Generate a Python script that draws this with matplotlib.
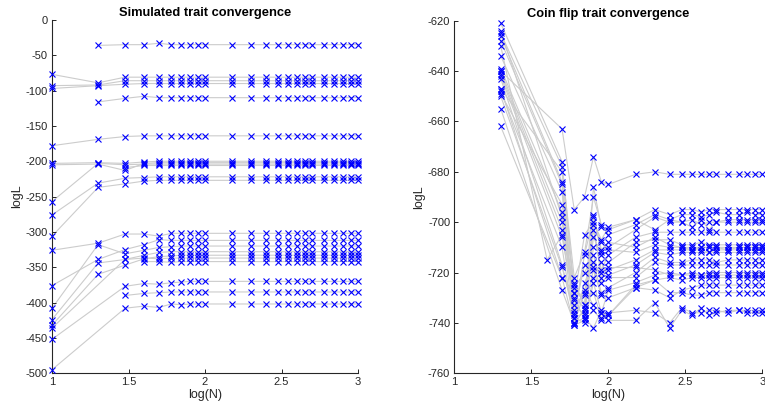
import numpy as np
import matplotlib
matplotlib.use("Agg")
from matplotlib import pyplot as plt

plt.rcParams['font.family'] = ['Liberation Sans', 'DejaVu Sans']
plt.rcParams['axes.unicode_minus'] = False

# --- left panel: simulated trait ---
n_sim = [10, 20, 30, 40, 50, 60, 70, 80, 90, 100, 150, 200, 250, 300, 350, 400,
         450, 500, 600, 700, 800, 900, 1000]

sim_logL = [
    [None, -36, -35, -35, -33, -35, -35, -35, -35, -35, -35, -35, -35, -35, -35, -35, -35, -35, -35, -35, -35, -35, -35],
    [-77, -89, -81, -81, -81, -81, -81, -81, -81, -81, -81, -81, -81, -81, -81, -81, -81, -81, -81, -81, -81, -81, -81],
    [-93, -92, -86, -86, -86, -86, -86, -86, -86, -86, -86, -86, -86, -86, -86, -86, -86, -86, -86, -86, -86, -86, -86],
    [-97, -93, -91, -90, -90, -90, -90, -90, -90, -90, -90, -90, -90, -90, -90, -90, -90, -90, -90, -90, -90, -90, -90],
    [None, -116, -111, -108, -110, -110, -110, -110, -110, -110, -110, -110, -110, -110, -110, -110, -110, -110, -110, -110, -110, -110, -110],
    [-178, -169, -165, -164, -164, -164, -164, -164, -164, -164, -164, -164, -164, -164, -164, -164, -164, -164, -164, -164, -164, -164, -164],
    [-203, -202, -203, -201, -200, -200, -200, -200, -200, -200, -200, -200, -200, -200, -200, -200, -200, -200, -200, -200, -200, -200, -200],
    [-205, -204, -213, -203, -202, -202, -202, -202, -202, -202, -202, -202, -202, -202, -202, -202, -202, -202, -202, -202, -202, -202, -202],
    [-257, -203, -205, -204, -204, -204, -204, -204, -204, -204, -204, -204, -204, -204, -204, -204, -204, -204, -204, -204, -204, -204, -204],
    [None, None, -209, -206, -206, -206, -206, -206, -206, -206, -206, -206, -206, -206, -206, -206, -206, -206, -206, -206, -206, -206, -206],
    [-276, -231, -224, -223, -222, -222, -222, -222, -222, -222, -222, -222, -222, -222, -222, -222, -222, -222, -222, -222, -222, -222, -222],
    [-306, -237, -232, -228, -227, -227, -227, -227, -227, -227, -227, -227, -227, -227, -227, -227, -227, -227, -227, -227, -227, -227, -227],
    [-326, -316, -303, -303, -306, -302, -302, -302, -302, -302, -302, -302, -302, -302, -302, -302, -302, -302, -302, -302, -302, -302, -302],
    [-376, -339, -325, -318, -311, -312, -312, -312, -312, -312, -312, -312, -312, -312, -312, -312, -312, -312, -312, -312, -312, -312, -312],
    [-408, -318, -331, -326, -322, -321, -320, -320, -320, -320, -320, -320, -320, -320, -320, -320, -320, -320, -320, -320, -320, -320, -320],
    [-424, -344, -339, -333, -329, -328, -328, -328, -328, -328, -328, -328, -328, -328, -328, -328, -328, -328, -328, -328, -328, -328, -328],
    [-432, -360, -347, -338, -335, -334, -333, -333, -333, -333, -333, -333, -333, -333, -333, -333, -333, -333, -333, -333, -333, -333, -333],
    [-436, None, -339, -337, -338, -337, -337, -337, -337, -337, -337, -337, -337, -337, -337, -337, -337, -337, -337, -337, -337, -337, -337],
    [None, None, None, -342, -342, -343, -342, -342, -342, -342, -342, -342, -342, -342, -342, -342, -342, -342, -342, -342, -342, -342, -342],
    [-452, None, -377, -373, -374, -372, -371, -370, -370, -370, -370, -370, -370, -370, -370, -370, -370, -370, -370, -370, -370, -370, -370],
    [None, None, -390, -387, -386, -385, -385, -385, -385, -385, -385, -385, -385, -385, -385, -385, -385, -385, -385, -385, -385, -385, -385],
    [-495, None, -408, -405, -407, -402, -403, -402, -402, -402, -402, -402, -402, -402, -402, -402, -402, -402, -402, -402, -402, -402, -402],
]

# --- right panel: coin flip trait ---
n_coin = [20, 40, 50, 60, 70, 80, 90, 100, 150, 200, 250, 300, 350, 400, 450,
          500, 600, 700, 800, 900, 1000]

coin_logL = [
    [-640, None, -663, -695, -690, -674, -684, -685, -681, -680, -681, -681, -681, -681, -681, -681, -681, -681, -681, -681, -681],
    [-621, None, -676, -728, -735, -686, -702, -703, -699, -695, -697, -695, -695, -696, -695, -695, -695, -695, -695, -695, -695],
    [-625, None, -678, -722, -712, -690, -701, -705, -701, -697, -699, -697, -697, -698, -697, -696, -697, -697, -696, -697, -697],
    [-626, None, -684, -737, -713, -698, -712, -710, -703, -698, -700, -700, -702, -699, -703, -700, -699, -699, -699, -699, -699],
    [-628, None, -685, -740, -728, -703, -719, -713, -706, -704, -704, -704, -704, -704, -704, -704, -704, -704, -704, -704, -704],
    [-630, -715, -705, -725, -733, -706, -713, -716, -708, -707, -707, -709, -709, -708, -709, -709, -709, -709, -709, -709, -709],
    [-634, None, -688, -738, -736, -710, -708, -711, -712, -709, -710, -710, -710, -710, -710, -710, -710, -710, -710, -710, -710],
    [-639, None, -696, -733, -737, -701, -722, -719, -715, -711, -711, -711, -711, -711, -712, -711, -711, -711, -711, -711, -711],
    [-640, None, -700, -726, -720, -713, -724, -721, -717, -712, -713, -712, -712, -712, -712, -712, -712, -712, -712, -712, -712],
    [-641, None, -703, -740, -724, -716, -728, -726, -720, -714, -716, -716, -715, -715, -715, -716, -715, -715, -715, -715, -715],
    [-642, None, -706, -731, -738, -722, -716, -722, -722, -716, -717, -717, -717, -717, -717, -717, -717, -717, -717, -717, -717],
    [-643, None, -717, -738, -740, -724, -736, -727, -724, -721, -720, -721, -721, -721, -720, -720, -720, -720, -720, -720, -720],
    [-647, None, -722, -728, -729, -728, -738, -737, -725, -723, -722, -723, -722, -722, -722, -722, -722, -722, -722, -722, -722],
    [-648, None, -710, -741, -734, -719, -729, -730, -726, -727, -730, -727, -726, -725, -725, -725, -725, -725, -725, -725, -725],
    [-650, None, -718, -735, -727, -733, -736, -737, -726, -723, -728, -728, -729, -729, -728, -728, -728, -728, -728, -728, -728],
    [-655, None, -727, -740, -738, -742, -735, -739, -739, -732, -742, -735, -737, -734, -737, -736, -735, -735, -735, -735, -735],
    [-662, None, -722, -741, -739, -735, -739, -736, -735, -736, -740, -734, -736, -736, -735, -735, -736, -735, -736, -736, -736],
    [-647, None, -680, -730, -705, -700, -707, -702, -699, -703, -699, -700, -699, -701, -700, -700, -700, -700, -700, -700, -700],
    [-649, None, -693, -724, -733, -697, -711, -708, -710, -706, -709, -710, -711, -710, -710, -710, -711, -710, -710, -710, -710],
    [-624, None, -698, -736, -717, -718, -720, -718, -718, -719, -721, -721, -720, -721, -721, -721, -721, -721, -721, -721, -721],
]

line_col = (0.8, 0.8, 0.8)
ax_col = (0.15, 0.15, 0.15)


def draw_panel(ax, n, runs, title, ylim, yticks):
    logn = np.log10(n)
    for run in runs:
        xs = [x for x, v in zip(logn, run) if v is not None]
        ys = [v for v in run if v is not None]
        ax.plot(xs, ys, '-', color=line_col, lw=0.8, zorder=1, clip_on=False)
    for run in runs:
        xs = [x for x, v in zip(logn, run) if v is not None]
        ys = [v for v in run if v is not None]
        ax.plot(xs, ys, 'x', color='blue', ms=5, mew=0.8, zorder=3, clip_on=False)
    ax.set_xlim(1, 3)
    ax.set_ylim(*ylim)
    ax.set_xticks([1, 1.5, 2, 2.5, 3])
    ax.set_xticklabels(['1', '1.5', '2', '2.5', '3'])
    ax.set_yticks(yticks)
    ax.set_title(title, fontsize=9.3, fontweight='bold', color='black', pad=2.5)
    ax.set_xlabel('log(N)', fontsize=9, color=ax_col, labelpad=1)
    ax.set_ylabel('logL', fontsize=9, color=ax_col, labelpad=2)
    for s in ['top', 'right']:
        ax.spines[s].set_visible(False)
    for s in ['left', 'bottom']:
        ax.spines[s].set_color(ax_col)
        ax.spines[s].set_linewidth(0.8)
        ax.spines[s].set_zorder(2)
    ax.tick_params(direction='in', length=3, width=0.7, colors=ax_col,
                   labelsize=8, pad=3)


fig = plt.figure(figsize=(7.65, 4.07), dpi=100)
ax1 = fig.add_axes([0.068, 0.083, 0.400, 0.868])
ax2 = fig.add_axes([0.594, 0.083, 0.4026, 0.866])

draw_panel(ax1, n_sim, sim_logL, 'Simulated trait convergence', (-500, 0),
           list(range(-500, 1, 50)))
draw_panel(ax2, n_coin, coin_logL, 'Coin flip trait convergence', (-760, -620),
           list(range(-760, -619, 20)))

fig.savefig('out.png', dpi=100)
